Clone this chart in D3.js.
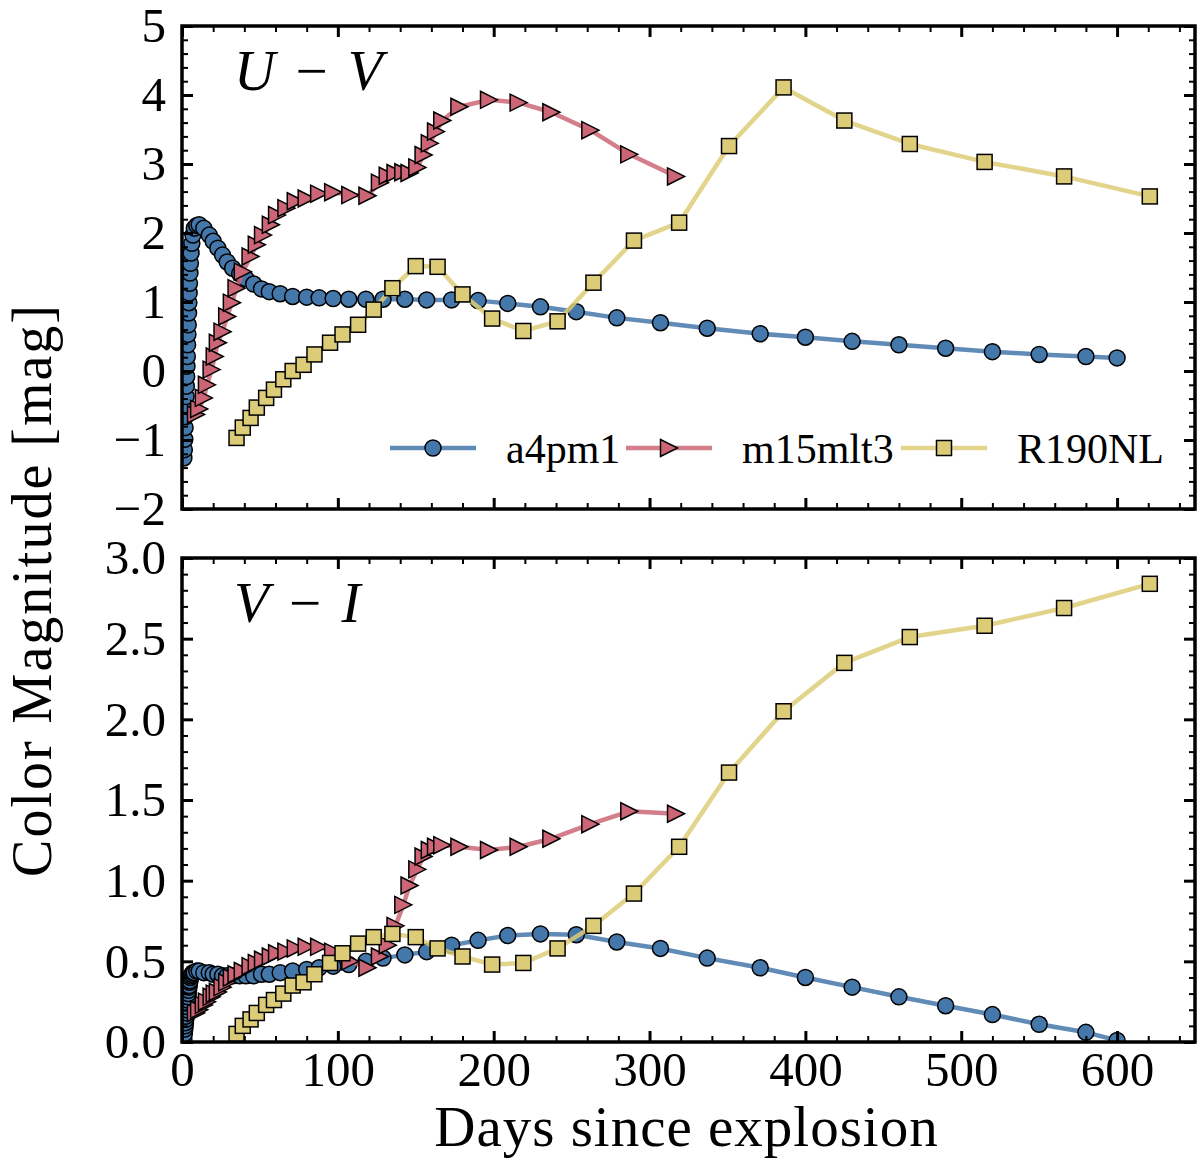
<!DOCTYPE html>
<html>
<head>
<meta charset="utf-8">
<script src="https://cdn.jsdelivr.net/npm/d3@7"></script>
<style>
  body { margin: 0; background: #fff; }
  #chart svg { display: block; }
</style>
</head>
<body>
<div id="chart"></div>
<script>
// Colour evolution of three models: U-V (top) and V-I (bottom)

const xTicks = [0, 100, 200, 300, 400, 500, 600];
const uvTicks = [-2, -1, 0, 1, 2, 3, 4, 5];
const viTicks = [0.0, 0.5, 1.0, 1.5, 2.0, 2.5, 3.0];

const seriesNames = ["a4pm1", "m15mlt3", "R190NL"];

// a4pm1 (circles)
const a4Days = [1.2, 1.5, 1.8, 2.0, 2.2, 2.4, 2.6, 2.8, 3.0, 3.2, 3.4, 3.6, 3.8, 4.0, 4.2, 4.4, 4.6, 4.8, 5.1, 5.4, 5.8, 6.3, 7.0, 7.9,
    9.5, 11, 14, 17.5, 20, 23, 26, 29, 32.5, 37, 41, 46, 51, 56, 63, 71, 80, 88, 97, 107, 118, 129, 143, 157, 173, 190,
    209, 230, 253, 279, 307, 337, 371, 400, 430, 460, 490, 520, 550, 580, 600];
const a4UV = [-1.26, -1.14, -0.99, -0.82, -0.66, -0.51, -0.37, -0.22, -0.08, 0.07, 0.21, 0.38, 0.53, 0.67, 0.84, 0.99, 1.13, 1.27, 1.42, 1.56, 1.71, 1.85, 1.97, 2.07,
    2.11, 2.12, 2.07, 1.97, 1.88, 1.78, 1.68, 1.58, 1.49, 1.41, 1.34, 1.26, 1.19, 1.15, 1.12, 1.08, 1.07, 1.06, 1.05, 1.04, 1.04, 1.04, 1.04, 1.03, 1.03, 1.02,
    0.98, 0.93, 0.86, 0.77, 0.70, 0.62, 0.54, 0.49, 0.43, 0.38, 0.33, 0.28, 0.24, 0.21, 0.19];
const a4VI = [0.02, 0.05, 0.08, 0.10, 0.12, 0.14, 0.16, 0.18, 0.20, 0.22, 0.24, 0.26, 0.28, 0.30, 0.32, 0.34, 0.35, 0.37, 0.38, 0.40, 0.41, 0.42, 0.43, 0.43,
    0.44, 0.44, 0.43, 0.43, 0.42, 0.42, 0.41, 0.41, 0.41, 0.41, 0.41, 0.41, 0.42, 0.42, 0.43, 0.44, 0.45, 0.46, 0.47, 0.48, 0.50, 0.52, 0.54, 0.56, 0.60, 0.63,
    0.66, 0.67, 0.665, 0.62, 0.58, 0.52, 0.46, 0.40, 0.34, 0.28, 0.225, 0.17, 0.11, 0.06, 0.01];

// m15mlt3 (right triangles)
const m15Days = [9, 11, 14, 16, 19, 21, 23, 26, 29, 32, 35, 39, 44, 48, 52, 57, 61, 67, 73, 80,
    88, 97, 108, 119, 127, 132, 137, 142, 146, 151, 155, 159, 163, 167, 178, 197, 216, 237, 262, 287, 317];
const m15UV = [-0.63, -0.55, -0.39, -0.20, 0.02, 0.21, 0.41, 0.57, 0.79, 0.99, 1.20, 1.44, 1.66, 1.83, 1.97, 2.12, 2.26, 2.36, 2.46, 2.50,
    2.57, 2.59, 2.55, 2.54, 2.73, 2.83, 2.87, 2.88, 2.87, 2.95, 3.13, 3.30, 3.47, 3.63, 3.83, 3.93, 3.89, 3.75, 3.49, 3.14, 2.82];
const m15VI = [0.18, 0.20, 0.23, 0.25, 0.28, 0.30, 0.31, 0.34, 0.37, 0.40, 0.42, 0.44, 0.47, 0.49, 0.51, 0.53, 0.55, 0.56, 0.58, 0.59,
    0.59, 0.56, 0.50, 0.46, 0.53, 0.60, 0.72, 0.85, 0.97, 1.07, 1.15, 1.19, 1.21, 1.22, 1.21, 1.19, 1.21, 1.26, 1.35, 1.43, 1.415];

// R190NL (squares)
const r190Days = [35, 39, 44, 48, 54, 59, 65, 71, 78, 85, 95, 103, 113, 123, 135, 150, 164, 180, 199, 219,
    241, 264, 290, 319, 351, 386, 425, 467, 515, 566, 621];
const r190UV = [-0.97, -0.82, -0.68, -0.53, -0.39, -0.27, -0.12, 0.0, 0.09, 0.24, 0.41, 0.53, 0.67, 0.89, 1.20, 1.52, 1.51, 1.11, 0.76, 0.58,
    0.72, 1.28, 1.89, 2.15, 3.26, 4.11, 3.63, 3.29, 3.03, 2.82, 2.53];
const r190VI = [0.05, 0.10, 0.14, 0.18, 0.23, 0.26, 0.30, 0.35, 0.37, 0.42, 0.49, 0.55, 0.61, 0.65, 0.67, 0.65, 0.58, 0.53, 0.48, 0.49,
    0.58, 0.72, 0.92, 1.21, 1.67, 2.05, 2.35, 2.51, 2.58, 2.69, 2.84];

function createChart() {
    const width = 1200;
    const height = 1159;
    const left = 182, right = 1195;
    const font = "'Liberation Serif', 'Times New Roman', serif";

    const colors = ["#4477AA", "#CC6677", "#DDCC77"];
    const markers = ["circle", "triangle", "square"];

    const svg = d3.select("#chart").append("svg")
        .attr("width", width)
        .attr("height", height);

    const x = d3.scaleLinear().domain([0, 650]).range([left, right]);

    const panels = [
        { top: 26, bottom: 509, domain: [-2, 5], ticks: uvTicks, minorStep: 0.2, fmt: d3.format("d"),
          label: ["U", "V"], labelY: 90,
          series: [[a4Days, a4UV], [m15Days, m15UV], [r190Days, r190UV]] },
        { top: 558, bottom: 1042, domain: [0, 3], ticks: viTicks, minorStep: 0.1, fmt: d3.format(".1f"),
          label: ["V", "I"], labelY: 622,
          series: [[a4Days, a4VI], [m15Days, m15VI], [r190Days, r190VI]] }
    ];

    function drawMarker(g, type, cx, cy, color) {
        let m;
        if (type === "circle") {
            m = g.append("circle").attr("cx", cx).attr("cy", cy).attr("r", 8);
        } else if (type === "square") {
            m = g.append("rect").attr("x", cx - 7.5).attr("y", cy - 7.5).attr("width", 15).attr("height", 15);
        } else {
            const s = 8.5;
            m = g.append("path").attr("d", `M${cx + s},${cy}L${cx - s},${cy - s}L${cx - s},${cy + s}Z`);
        }
        m.attr("fill", color)
            .attr("stroke", "#000")
            .attr("stroke-width", 1.5);
    }

    panels.forEach((p, pi) => {
        const y = d3.scaleLinear().domain(p.domain).range([p.bottom, p.top]);
        const majorStep = p.minorStep * 5;
        const minor = d3.range(p.domain[0], p.domain[1] + 1e-9, p.minorStep)
            .filter(v => Math.abs(v / majorStep - Math.round(v / majorStep)) > 1e-6);
        const xMinor = d3.range(0, 651, 20).filter(v => v % 100 !== 0);

        const clipId = "clip" + pi;
        svg.append("clipPath").attr("id", clipId)
            .append("rect")
            .attr("x", left).attr("y", p.top)
            .attr("width", right - left).attr("height", p.bottom - p.top);

        const plot = svg.append("g").attr("clip-path", `url(#${clipId})`);

        // series: line then markers, in order
        p.series.forEach(([days, vals], si) => {
            const pts = days.map((d, i) => [d, vals[i]]);
            const line = d3.line().x(d => x(d[0])).y(d => y(d[1]));
            plot.append("path")
                .datum(pts)
                .attr("d", line)
                .attr("fill", "none")
                .attr("stroke", colors[si])
                .attr("stroke-opacity", 0.85)
                .attr("stroke-width", 4.5)
                .attr("stroke-linejoin", "round");
            const mg = plot.append("g");
            pts.forEach(d => drawMarker(mg, markers[si], x(d[0]), y(d[1]), colors[si]));
        });

        // axes, ticks pointing inward on all four sides
        const axes = svg.append("g");

        const addAxis = (axis, transform, w) => {
            const g = axes.append("g").attr("transform", transform).call(axis);
            g.select(".domain").remove();
            g.selectAll("line").attr("stroke", "#000").attr("stroke-width", w);
            g.selectAll("text")
                .attr("fill", "#000")
                .style("font-family", font)
                .style("font-size", "49px");
            return g;
        };

        addAxis(d3.axisBottom(x).tickValues(xTicks).tickSize(-11).tickPadding(9)
            .tickFormat(pi === 1 ? d3.format("d") : ""), `translate(0,${p.bottom})`, 3);
        addAxis(d3.axisBottom(x).tickValues(xMinor).tickSize(-6).tickFormat(""), `translate(0,${p.bottom})`, 2);
        addAxis(d3.axisTop(x).tickValues(xTicks).tickSize(-11).tickFormat(""), `translate(0,${p.top})`, 3);
        addAxis(d3.axisTop(x).tickValues(xMinor).tickSize(-6).tickFormat(""), `translate(0,${p.top})`, 2);

        addAxis(d3.axisLeft(y).tickValues(p.ticks).tickSize(-11).tickPadding(16).tickFormat(p.fmt), `translate(${left},0)`, 3);
        addAxis(d3.axisLeft(y).tickValues(minor).tickSize(-6).tickFormat(""), `translate(${left},0)`, 2);
        addAxis(d3.axisRight(y).tickValues(p.ticks).tickSize(-11).tickFormat(""), `translate(${right},0)`, 3);
        addAxis(d3.axisRight(y).tickValues(minor).tickSize(-6).tickFormat(""), `translate(${right},0)`, 2);

        // frame
        svg.append("rect")
            .attr("x", left).attr("y", p.top)
            .attr("width", right - left).attr("height", p.bottom - p.top)
            .attr("fill", "none")
            .attr("stroke", "#000")
            .attr("stroke-width", 3.5);

        // panel label
        const lab = svg.append("text")
            .attr("x", 234)
            .attr("y", p.labelY)
            .style("font-family", font)
            .style("font-size", "57px")
            .attr("fill", "#000");
        lab.append("tspan").style("font-style", "italic").text(p.label[0]);
        lab.append("tspan").attr("dx", 6).text(" \u2212 ");
        lab.append("tspan").attr("dx", 6).style("font-style", "italic").text(p.label[1]);
    });

    // legend in the top panel
    const legY = 448;
    const legStarts = [390, 626, 901];
    const legend = svg.append("g");
    seriesNames.forEach((name, i) => {
        const x0 = legStarts[i];
        legend.append("line")
            .attr("x1", x0).attr("x2", x0 + 86)
            .attr("y1", legY).attr("y2", legY)
            .attr("stroke", colors[i])
            .attr("stroke-opacity", 0.85)
            .attr("stroke-width", 4.5);
        const mg = legend.append("g");
        drawMarker(mg, markers[i], x0 + 43, legY, colors[i]);
        legend.append("text")
            .attr("x", x0 + 116)
            .attr("y", legY)
            .attr("dy", "0.35em")
            .style("font-family", font)
            .style("font-size", "42px")
            .attr("fill", "#000")
            .text(name);
    });

    // axis titles
    svg.append("text")
        .attr("x", (left + right) / 2 - 2)
        .attr("y", 1146)
        .attr("text-anchor", "middle")
        .style("font-family", font)
        .style("font-size", "57px")
        .style("letter-spacing", "1px")
        .attr("fill", "#000")
        .text("Days since explosion");

    svg.append("text")
        .attr("transform", "translate(51,590) rotate(-90)")
        .attr("text-anchor", "middle")
        .style("font-family", font)
        .style("font-size", "56px")
        .style("letter-spacing", "2px")
        .attr("fill", "#000")
        .text("Color Magnitude [mag]");
}

createChart();
</script>
</body>
</html>
